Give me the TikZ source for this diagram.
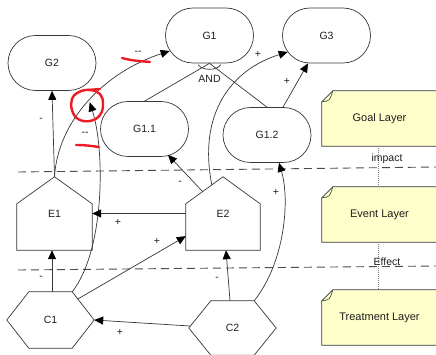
\documentclass[tikz,border=0pt]{standalone}
\usepackage{fontspec}
\setmainfont{Liberation Sans}
\usetikzlibrary{arrows.meta,calc}
\pgfdeclarelayer{background}
\pgfsetlayers{background,main}

\definecolor{inkgray}{RGB}{55,55,55}
\definecolor{sepgray}{RGB}{75,75,75}
\definecolor{notefill}{RGB}{255,255,204}
\definecolor{markred}{RGB}{237,28,36}
\definecolor{txt}{RGB}{30,30,30}

\tikzset{
  base/.style={font=\fontsize{10.5}{12}\selectfont, text=txt},
  goalbox/.style={base, draw=inkgray, fill=white, line width=0.7pt,
    rounded corners=27.5pt, minimum width=88pt, minimum height=55pt, inner sep=0pt},
  blank/.style={base, inner sep=0pt},
  outline/.style={draw=inkgray, fill=white, line width=0.7pt, line join=miter},
  notebox/.style={font=\fontsize{11}{13}\selectfont, text=txt, inner sep=0pt,
    minimum width=115pt, minimum height=55pt},
  noteline/.style={draw=inkgray, fill=notefill, line width=0.7pt},
  link/.style={draw=inkgray, line width=0.7pt,
    -{Triangle[length=9pt,width=8pt,color=black]}},
  plain/.style={draw=inkgray, line width=0.7pt},
  sign/.style={base, inner sep=0pt},
  layersep/.style={draw=sepgray, line width=0.9pt, dash pattern=on 8pt off 5pt},
  tie/.style={draw=gray, line width=0.6pt, dash pattern=on 1pt off 1pt},
  redmark/.style={draw=markred, line width=2.4pt, line cap=round, line join=round}
}

\begin{document}
\begin{tikzpicture}[x=1pt,y=-1pt]
\useasboundingbox (0,0) rectangle (436,355);
\clip (0,0) rectangle (436,355);

% goal nodes
\node[goalbox] (G2)  at (52,63)      {G2};
\node[goalbox] (G1)  at (209.5,35.5) {G1};
\node[goalbox] (G3)  at (326.5,35.5) {G3};
\node[goalbox] (G11) at (144.5,129)  {G1.1};
\node[goalbox] (G12) at (267,135)    {G1.2};

% event nodes (house outline) and treatment nodes (hexagon outline)
\node[blank, minimum width=75pt, minimum height=73pt] (E1) at (54.5,213.5) {E1};
\node[blank, minimum width=74pt, minimum height=73pt] (E2) at (223,213.5)  {E2};
\node[blank, minimum width=87pt, minimum height=56pt] (C1) at (50.5,320)   {C1};
\node[blank, minimum width=87pt, minimum height=54pt] (C2) at (232.5,328)  {C2};

% layer notes
\node[notebox] (goal)  at (379.5,118.5) {Goal Layer};
\node[notebox] (event) at (379.5,214.5) {Event Layer};
\node[notebox] (treat) at (379.5,317.5) {Treatment Layer};

\begin{pgfonlayer}{background}
  \fill[white] (0,0) rectangle (436,355);
  % layer separators
  \draw[layersep] (18,172) -- (436,167);
  \draw[layersep] (18,270) -- (436,266);
  % house outlines
  \foreach \h in {E1,E2}
    \draw[outline] (\h.south west) -- (\h.south east) -- ($(\h.north east)+(0,27)$)
      -- (\h.north) -- ($(\h.north west)+(0,27)$) -- cycle;
  % hexagon outlines
  \foreach \h in {C1,C2}
    \draw[outline] (\h.west) -- ($(\h.north west)+(22,0)$) -- ($(\h.north east)+(-22,0)$)
      -- (\h.east) -- ($(\h.south east)+(-22,0)$) -- ($(\h.south west)+(22,0)$) -- cycle;
  % note outlines with folded corner
  \foreach \n in {goal,event,treat} {
    \draw[noteline] (\n.south west) -- ($(\n.north west)+(0,11)$) -- ($(\n.north west)+(11,0)$)
      -- ($(\n.north east)+(2,0)$) -- ($(\n.south east)+(2,0)$) -- cycle;
    \draw[plain, line width=0.6pt] ($(\n.north west)+(0,11)$) .. controls ($(\n.north west)+(8,10)$) .. ($(\n.north west)+(11,0)$);
  }
\end{pgfonlayer}

% links between the notes
\draw[tie] ($(goal.south)+(-1.5,0)$) -- ($(event.north)+(-1.5,0)$);
\draw[tie] ($(event.south)+(-1.5,0)$) -- ($(treat.north)+(-1.5,0)$);
\node[base, inner sep=0pt] (impact) at (387,159) {impact};
\node[base, inner sep=0pt] (effect) at (387,262) {Effect};

% AND decomposition of G1
\draw[plain] (G11.north) -- (G1.south);
\draw[plain] (G12.north) -- (G1.south);
\draw[plain] ($(G1.south)+(-11.3,1.4)$) arc[start angle=160, end angle=20, x radius=12, y radius=7];
\node[sign] (andlbl) at ($(G1.south)+(0,16)$) {AND};

% influence links
\draw[link] (E1.north) -- (G2.south);
\draw[link] (E1.north) .. controls (58,120) and (105,72) .. ($(G1.west)+(4.5,15.5)$)
  coordinate[pos=0.5] (hit);
\draw[link, shorten >=2pt] ($(C1.north east)+(-22,0)$) .. controls (105,250) and (105,150) .. (hit);
\draw[link] ($(E2.north west)+(17,15)$) -- ($(G11.south)+(23.5,-2)$);
\draw[link] (E2.west) -- (E1.east);
\draw[link] ($(C1.north)+(1.5,0)$) -- ($(E1.south)+(-2.5,0)$);
\draw[link] ($(C1.north east)+(-16,7)$) -- ($(E2.south west)+(0,-14)$);
\draw[link] ($(C2.west)+(1,-2)$) -- (C1.east);
\draw[link] ($(C2.north)+(-2.5,0)$) -- ($(E2.south)+(3,0)$);
\draw[link] ($(C2.north east)+(-22,0)$) .. controls (285,262) and (290,200) .. ($(G12.south)+(12,0)$);
\draw[link] ($(E2.north west)+(26,8)$) .. controls (198,115) and (230,70) .. ($(G3.west)+(5.5,16.5)$);
\draw[link] ($(G12.north)+(16,0)$) -- ($(G3.south)+(-18.5,0)$);

% link signs
\node[sign] (s1)  at (41,120)  {-};
\node[sign] (s2)  at (138,53)  {-{}-};
\node[sign] (s3)  at (85,134)  {-{}-};
\node[sign] (s4)  at (180,183) {-};
\node[sign] (s5)  at (118,222) {+};
\node[sign] (s6)  at (157,241) {+};
\node[sign] (s7)  at (41,278)  {-};
\node[sign] (s8)  at (217,279) {-};
\node[sign] (s9)  at (120,332) {+};
\node[sign] (s10) at (276,192) {+};
\node[sign] (s11) at (258,54)  {+};
\node[sign] (s12) at (287,81)  {+};

% red pen marks
\draw[redmark] (122,58) .. controls (133,61) and (140,61) .. (150,62);
\draw[redmark] (76,145) .. controls (85,145) and (92,146) .. (99,147);
\draw[redmark] plot[smooth cycle, tension=0.7] coordinates
  {(90,90) (100,94) (103,104) (100,115) (90,121) (78,119) (72,110) (72,99) (79,92)};
\draw[redmark] (88,90) -- (100,89);
\end{tikzpicture}
\end{document}
